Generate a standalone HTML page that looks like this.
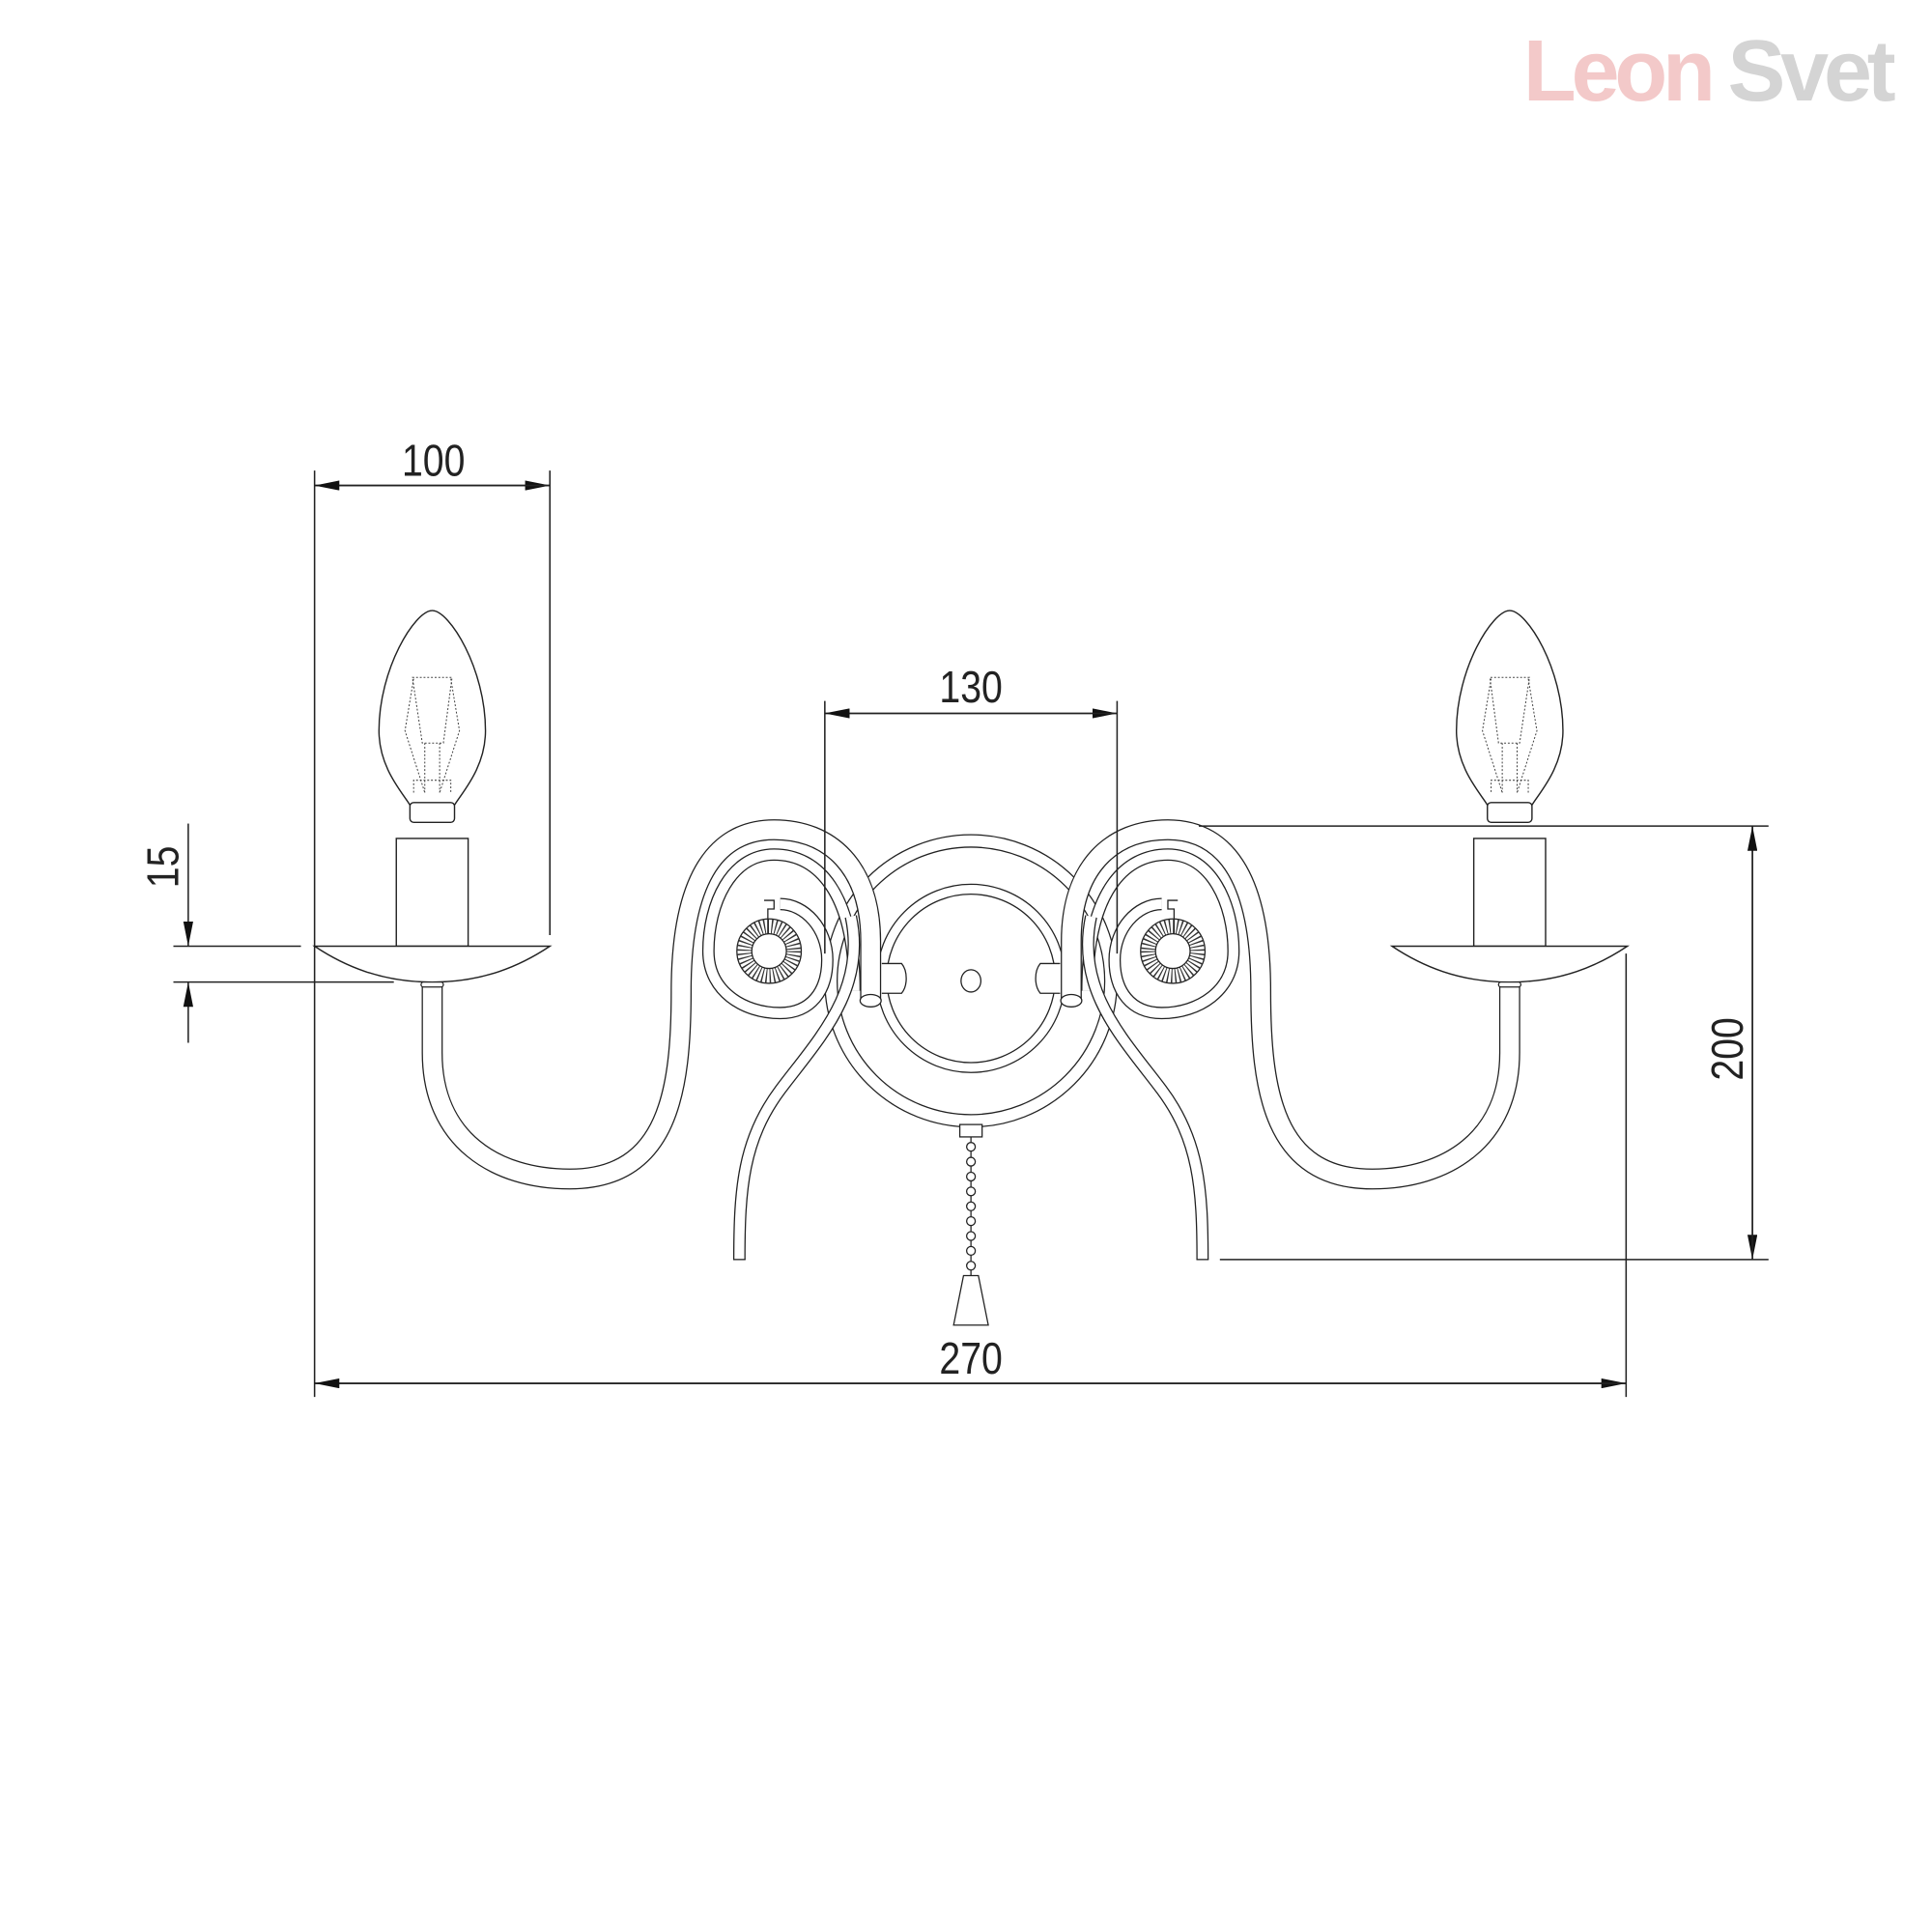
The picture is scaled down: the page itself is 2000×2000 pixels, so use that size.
<!DOCTYPE html>
<html><head><meta charset="utf-8"><style>
html,body{margin:0;padding:0;background:#fff;width:2000px;height:2000px;overflow:hidden}
svg{display:block}
text{font-family:"Liberation Sans",sans-serif;fill:#222}
</style></head><body>
<svg width="2000" height="2000" viewBox="0 0 1560 1560" xmlns="http://www.w3.org/2000/svg">
<defs>
<marker id="a" viewBox="0 0 20 8" refX="20" refY="4" markerWidth="20" markerHeight="8" orient="auto" markerUnits="userSpaceOnUse"><path d="M0,0L20,4L0,8z" fill="#111"/></marker>
<g id="half">
  <path d="M349,493 C335,493 306,540 306,590 C306,620 325,640 331,650 L367,650 C373,640 392,620 392,590 C392,540 363,493 349,493 Z" fill="none" stroke="#222" stroke-width="1.1"/>
  <g fill="none" stroke="#444" stroke-width="0.8" stroke-dasharray="1.5 1.5">
    <path d="M333,547 L365,547 L358,600 L341,600 Z"/>
    <path d="M334,548 L327,590 L343,640 M364,548 L371,590 L355,640"/>
    <path d="M343,600 L343,640 M355,600 L355,640 M334,640 L334,630 L364,630 L364,640"/>
  </g>
  <rect x="331" y="648" width="36" height="16" rx="3" fill="#fff" stroke="#222" stroke-width="1.1"/>
  <rect x="320" y="677" width="58" height="87" fill="#fff" stroke="#222" stroke-width="1.1"/>
  <path d="M349,795 L349,850 C349,920 400,952 460,952 C540,952 550,880 550,800 C550,715 575,670 625,670 C670,670 703,700 703,760 L703,808" fill="none" stroke="#222" stroke-width="17"/>
  <path d="M349,795 L349,850 C349,920 400,952 460,952 C540,952 550,880 550,800 C550,715 575,670 625,670 C670,670 703,700 703,760 L703,808" fill="none" stroke="#fff" stroke-width="15"/>
  <ellipse cx="703" cy="808" rx="8.5" ry="5" fill="#fff" stroke="#222" stroke-width="1"/>
  <path d="M690,800 C690,720 660,690 625,690 C590,690 572,730 572,768 C572,800 600,818 630,818 C655,818 668,800 668,775 C668,750 650,730 630,730" fill="none" stroke="#222" stroke-width="10"/>
  <path d="M690,800 C690,720 660,690 625,690 C590,690 572,730 572,768 C572,800 600,818 630,818 C655,818 668,800 668,775 C668,750 650,730 630,730" fill="none" stroke="#fff" stroke-width="8"/>
  <path d="M687,740 C700,800 660,840 630,880 C600,920 597,960 597,1017" fill="none" stroke="#222" stroke-width="10"/>
  <path d="M687,740 C700,800 660,840 630,880 C600,920 597,960 597,1017" fill="none" stroke="#fff" stroke-width="8"/>
  <path d="M592,1017 L602,1017" stroke="#222" stroke-width="1"/>
  <circle cx="621" cy="768" r="26" fill="#fff" stroke="#222" stroke-width="1"/>
  <circle cx="621" cy="768" r="20" fill="none" stroke="#333" stroke-width="12" stroke-dasharray="1 2"/>
  <circle cx="621" cy="768" r="14" fill="#fff" stroke="#222" stroke-width="1"/>
  <path d="M617,727 L625,727 L625,734 L620,734 L620,754" fill="none" stroke="#222" stroke-width="1"/>
  <path d="M254,764 L444,764 C420,780 390,793 349,793 C308,793 278,780 254,764 Z" fill="#fff" stroke="#222" stroke-width="1.1"/>
  <rect x="340" y="793" width="18" height="4" rx="2" fill="#fff" stroke="#222" stroke-width="1"/>
  <path d="M712,778 L728,778 C733,784 733,796 728,802 L712,802" fill="#fff" stroke="#222" stroke-width="1"/>
</g>
</defs>

<text x="1230" y="81" font-size="70" font-weight="bold" style="fill:#f3c9c9" letter-spacing="-4">Leon</text>
<text x="1395" y="81" font-size="70" font-weight="bold" style="fill:#d4d4d4" letter-spacing="-4">Svet</text>

<circle cx="784" cy="792" r="118" fill="none" stroke="#222" stroke-width="1"/>
<circle cx="784" cy="792" r="108" fill="none" stroke="#222" stroke-width="1"/>
<circle cx="784" cy="790" r="76" fill="none" stroke="#222" stroke-width="1"/>
<circle cx="784" cy="790" r="68" fill="#fff" stroke="#222" stroke-width="1"/>
<ellipse cx="784" cy="792" rx="8" ry="9" fill="#fff" stroke="#222" stroke-width="1"/>

<use href="#half"/>
<use href="#half" transform="translate(1568,0) scale(-1,1)"/>

<rect x="775" y="908" width="18" height="10" fill="#fff" stroke="#222" stroke-width="1"/>
<line x1="784" y1="918" x2="784" y2="1030" stroke="#222" stroke-width="1"/>
<g fill="#fff" stroke="#222" stroke-width="1">
<circle cx="784" cy="926" r="3.5"/><circle cx="784" cy="938" r="3.5"/><circle cx="784" cy="950" r="3.5"/><circle cx="784" cy="962" r="3.5"/><circle cx="784" cy="974" r="3.5"/><circle cx="784" cy="986" r="3.5"/><circle cx="784" cy="998" r="3.5"/><circle cx="784" cy="1010" r="3.5"/><circle cx="784" cy="1022" r="3.5"/>
</g>
<path d="M778,1030 L790,1030 L798,1070 L770,1070 Z" fill="#fff" stroke="#222" stroke-width="1"/>

<g stroke="#222" stroke-width="1.2" fill="none">
  <line x1="254" y1="380" x2="254" y2="1128"/>
  <line x1="444" y1="380" x2="444" y2="755"/>
  <line x1="254" y1="392" x2="444" y2="392" marker-end="url(#a)"/>
  <line x1="444" y1="392" x2="254" y2="392" marker-end="url(#a)"/>
  <line x1="666" y1="566" x2="666" y2="770"/>
  <line x1="902" y1="566" x2="902" y2="770"/>
  <line x1="666" y1="576" x2="902" y2="576" marker-end="url(#a)"/>
  <line x1="902" y1="576" x2="666" y2="576" marker-end="url(#a)"/>
  <line x1="1313" y1="770" x2="1313" y2="1128"/>
  <line x1="254" y1="1117" x2="1313" y2="1117" marker-end="url(#a)"/>
  <line x1="1313" y1="1117" x2="254" y2="1117" marker-end="url(#a)"/>
  <line x1="968" y1="667" x2="1428" y2="667"/>
  <line x1="985" y1="1017" x2="1428" y2="1017"/>
  <line x1="1415" y1="667" x2="1415" y2="1017" marker-end="url(#a)"/>
  <line x1="1415" y1="1017" x2="1415" y2="667" marker-end="url(#a)"/>
  <line x1="140" y1="764" x2="243" y2="764"/>
  <line x1="140" y1="793" x2="318" y2="793"/>
  <line x1="152" y1="665" x2="152" y2="764" marker-end="url(#a)"/>
  <line x1="152" y1="842" x2="152" y2="793" marker-end="url(#a)"/>
</g>
<g font-size="36">
  <text transform="translate(350,384) scale(0.85,1)" text-anchor="middle">100</text>
  <text transform="translate(784,567) scale(0.85,1)" text-anchor="middle">130</text>
  <text transform="translate(784,1109) scale(0.85,1)" text-anchor="middle">270</text>
  <text transform="translate(1407,847) rotate(-90) scale(0.85,1)" text-anchor="middle">200</text>
  <text transform="translate(144,700) rotate(-90) scale(0.85,1)" text-anchor="middle">15</text>
</g>
</svg>
</body></html>
